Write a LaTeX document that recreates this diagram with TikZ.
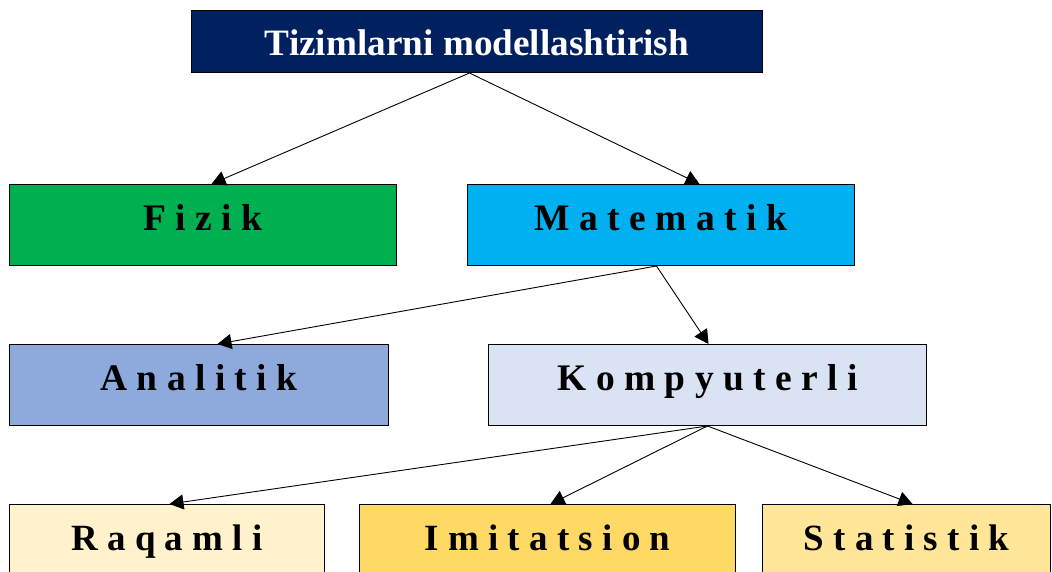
\documentclass[tikz,border=0pt]{standalone}
\usepackage{fontspec}
\setmainfont{Liberation Serif}
\newfontfamily\spacedfont[LetterSpace=25]{Liberation Serif}
\usetikzlibrary{arrows.meta,calc}
\definecolor{navy}{HTML}{002060}
\definecolor{fizgreen}{HTML}{00B050}
\definecolor{matblue}{HTML}{00B0F0}
\definecolor{analblue}{HTML}{8EA9DB}
\definecolor{kompblue}{HTML}{DAE3F3}
\definecolor{raqcream}{HTML}{FFF2CC}
\definecolor{imitgold}{HTML}{FFD966}
\definecolor{statgold}{HTML}{FFE699}
\begin{document}
\begin{tikzpicture}[x=1pt,y=-1pt,
  box/.style={draw=black,line width=1pt,rectangle,inner sep=0pt,anchor=north west,
    minimum height=81pt,text height=24pt,text depth=14pt,
    font=\spacedfont\bfseries\fontsize{37.5}{40}\selectfont},
  lowbox/.style={box,font=\spacedfont\bfseries\fontsize{37}{40}\selectfont},
  link/.style={line width=0.9pt,-{Triangle[length=14pt,width=15pt]}}]
\useasboundingbox (0,0) rectangle (1052,572);
\clip (0,0) rectangle (1052,572);

% root
\node[box,fill=navy,text=white,minimum width=571pt,minimum height=62pt,
  text height=28pt,text depth=0pt,font=\bfseries\fontsize{37.2}{40}\selectfont]
  (root) at (191,10) {Tizimlarni modellashtirish};

% second level
\node[box,fill=fizgreen,minimum width=387pt] (fizik) at (9,184) {Fizik};
\node[box,fill=matblue,minimum width=387pt] (matem) at (467,184) {Matematik};

% third level
\node[box,fill=analblue,minimum width=379pt] (anal) at (9,344) {Analitik};
\node[box,fill=kompblue,minimum width=438pt] (komp) at (488,344) {Kompyuterli};

% fourth level
\node[lowbox,fill=raqcream,minimum width=315pt] (raq) at (9,504) {Raqamli};
\node[lowbox,fill=imitgold,minimum width=376pt] (imit) at (359,504) {Imitatsion};
\node[lowbox,fill=statgold,minimum width=288pt] (stat) at (762,504) {Statistik};

% connectors
\draw[link] ([xshift=-7.5pt]root.south) -- ([xshift=8.5pt]fizik.north);
\draw[link] ([xshift=-7.5pt]root.south) -- ([xshift=38.5pt]matem.north);
\draw[link] ([xshift=-4.5pt]matem.south) -- ([xshift=18.5pt]anal.north);
\draw[link] ([xshift=-4.5pt]matem.south) -- ([xshift=1pt]komp.north);
\draw[link] (komp.south) -- ([xshift=2.5pt]raq.north);
\draw[link] (komp.south) -- ([xshift=3pt]imit.north);
\draw[link] (komp.south) -- ([xshift=6pt]stat.north);
\end{tikzpicture}
\end{document}
